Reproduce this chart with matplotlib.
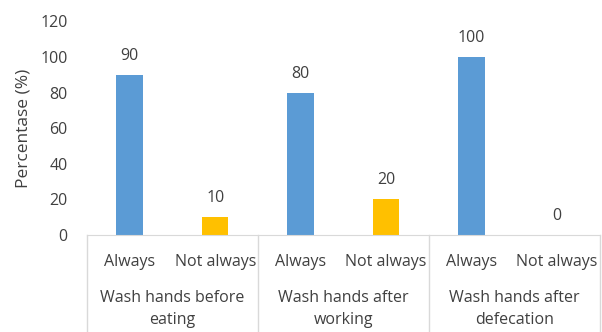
import matplotlib.pyplot as plt
import matplotlib.transforms as mtransforms

plt.rcParams['font.family'] = ['Open Sans', 'DejaVu Sans']

groups = ['Wash hands before\neating', 'Wash hands after\nworking', 'Wash hands after\ndefecation']
answers = ['Always', 'Not always']
always = [90, 80, 100]
not_always = [10, 20, 0]

blue = '#5B9BD5'
yellow = '#FFC000'
gray_line = '#D9D9D9'
txt = '#404040'

fig = plt.figure(figsize=(6.02, 3.32), dpi=100)
ax = fig.add_axes([0.1445, 0.292, 0.852, 0.6435])

# positions: each group has 2 slots
xs_a = [g * 2 + 0.5 for g in range(len(groups))]
xs_n = [g * 2 + 1.5 for g in range(len(groups))]
w = 0.31

ax.bar(xs_a, always, width=w, color=blue)
ax.bar(xs_n, not_always, width=w, color=yellow)

for x, v in zip(xs_a + xs_n, always + not_always):
    ax.annotate(str(v), (x, v), xytext=(0, 8), textcoords='offset points',
                ha='center', va='bottom', fontsize=11.5, color=txt)

ax.set_xlim(0, 2 * len(groups))
ax.set_ylim(0, 120)
ax.set_yticks(range(0, 121, 20))
ax.tick_params(axis='y', length=0, labelsize=11.5, labelcolor=txt, pad=14)
ax.set_xticks([])
for s in ['top', 'right', 'left']:
    ax.spines[s].set_visible(False)
ax.spines['bottom'].set_color(gray_line)
ax.set_ylabel('Percentase (%)', fontsize=12.5, color=txt, labelpad=6)

# multi-level category axis
trans = mtransforms.blended_transform_factory(ax.transData, fig.transFigure)
for g in range(len(groups) + 1):
    ax.plot([g * 2, g * 2], [1 - 235 / 332, 0], transform=trans, color=gray_line,
            lw=1, clip_on=False)
for x in xs_a:
    ax.text(x, 1 - 262 / 332, answers[0], transform=trans, ha='center', va='center',
            fontsize=11.5, color=txt)
for x in xs_n:
    ax.text(x, 1 - 262 / 332, answers[1], transform=trans, ha='center', va='center',
            fontsize=11.5, color=txt)
for g, name in enumerate(groups):
    ax.text(g * 2 + 1, 1 - 309 / 332, name, transform=trans, ha='center', va='center',
            fontsize=11.5, color=txt, linespacing=1.45)

fig.savefig('out.png', dpi=100)
